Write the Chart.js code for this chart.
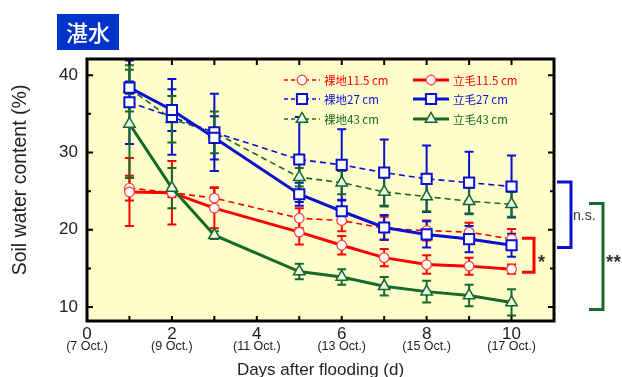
<!DOCTYPE html>
<html>
<head>
<meta charset="utf-8">
<script src="https://cdn.jsdelivr.net/npm/chart.js@4/dist/chart.umd.min.js"></script>
<style>
  html, body { margin: 0; padding: 0; background: #fff; }
</style>
</head>
<body>
<canvas id="chart" width="622" height="377"></canvas>
<script>
// days after flooding where soil water was measured
const days = [1, 2, 3, 5, 6, 7, 8, 9, 10];
const seriesNames = ["裸地11.5 cm", "立毛11.5 cm", "裸地27 cm", "立毛27 cm", "裸地43 cm", "立毛43 cm"];

// mean soil water content (%)
const bare115 = [25.4, 24.8, 24.1, 21.5, 21.2, 20.2, 19.9, 19.7, 18.8];
const stand115 = [24.9, 24.8, 22.8, 19.7, 18.0, 16.4, 15.5, 15.3, 14.9];
const bare27 = [36.5, 34.6, 32.6, 29.1, 28.4, 27.4, 26.6, 26.1, 25.6];
const stand27 = [38.4, 35.5, 31.9, 24.6, 22.4, 20.3, 19.4, 18.8, 18.0];
const bare43 = [38.3, 34.3, 32.6, 26.8, 26.1, 24.9, 24.3, 23.7, 23.3];
const stand43 = [33.7, 25.4, 19.3, 14.6, 13.9, 12.7, 12.0, 11.5, 10.6];

// error bars (half length)
const bare115Err = [1.6, 0.6, 1.4, 1.3, 1.4, 1.5, 1.3, 1.2, 1.3];
const stand115Err = [4.4, 4.1, 2.6, 1.6, 1.2, 1.1, 1.2, 1.1, 0.6];
const bare27Err = [5.4, 4.9, 5.0, 5.5, 4.6, 4.3, 4.3, 4.0, 4.0];
const stand27Err = [0.8, 2.7, 2.8, 1.5, 1.5, 1.6, 1.7, 1.7, 1.5];
const bare43Err = [3.0, 3.0, 2.7, 1.2, 1.5, 1.9, 1.9, 1.7, 1.6];
const stand43Err = [7.0, 2.6, 0.5, 1.0, 1.0, 1.2, 1.4, 1.4, 1.7];

// axes
const xTicks = [0, 2, 4, 6, 8, 10];
const xDates = ["(7 Oct.)", "(9 Oct.)", "(11 Oct.)", "(13 Oct.)", "(15 Oct.)", "(17 Oct.)"];
const xTickMarks = [1, 2, 3, 4, 5, 6, 7, 8, 9, 10];
const yTicks = [10, 20, 30, 40];
const yTickMarks = [10, 15, 20, 25, 30, 35, 40];

// significance brackets (value range on y axis)
const bracketLabels = ["*", "n.s.", "**"];
const bracketTop = [18.9, 26.2, 23.4];
const bracketBottom = [14.5, 17.7, 9.7];

const RED = "#ff0000";
const BLUE = "#0a0fd0";
const GREEN = "#17692a";
const bracketColors = [RED, BLUE, GREEN];

function pts(vals) {
  return days.map((d, i) => ({ x: d, y: vals[i] }));
}

function serie(i, vals, errs, color, style, dashed, order) {
  let radius = 4.8, bw = 1.2, fill = "#ffffff", pcol = "#ff3b3b";
  if (style === "rect") { radius = 7.2; bw = 2; pcol = color; }
  if (style === "triangle") { radius = 6.6; bw = 1.5; pcol = color; fill = "#eef4ee"; }
  return {
    label: seriesNames[i],
    data: pts(vals),
    errors: errs,
    errColor: color,
    borderColor: color,
    borderWidth: dashed ? 1.6 : 3,
    borderDash: dashed ? [6, 4] : [],
    pointStyle: style,
    pointRadius: radius,
    pointBorderWidth: bw,
    pointBorderColor: pcol,
    pointBackgroundColor: fill,
    fill: false,
    tension: 0,
    order: order
  };
}

const datasets = [
  serie(0, bare115, bare115Err, RED, "circle", true, 5),
  serie(1, stand115, stand115Err, RED, "circle", false, 4),
  serie(2, bare27, bare27Err, BLUE, "rect", true, 1),
  serie(3, stand27, stand27Err, BLUE, "rect", false, 0),
  serie(4, bare43, bare43Err, GREEN, "triangle", true, 3),
  serie(5, stand43, stand43Err, GREEN, "triangle", false, 2)
];

// background: white page, pale yellow plot
const background = {
  id: "background",
  beforeDraw(chart) {
    const { ctx, chartArea: a } = chart;
    ctx.save();
    ctx.fillStyle = "#ffffff";
    ctx.fillRect(0, 0, chart.width, chart.height);
    ctx.fillStyle = "#ffffcc";
    ctx.fillRect(a.left, a.top, a.right - a.left, a.bottom - a.top);
    ctx.restore();
  }
};

const errorBars = {
  id: "errorBars",
  beforeDatasetsDraw(chart) {
    const { ctx, chartArea: a, scales: { x, y } } = chart;
    ctx.save();
    ctx.beginPath();
    ctx.rect(a.left, a.top, a.right - a.left, a.bottom - a.top);
    ctx.clip();
    chart.data.datasets.forEach(ds => {
      ctx.strokeStyle = ds.errColor;
      ctx.lineWidth = 2;
      ds.data.forEach((p, i) => {
        const e = ds.errors[i];
        const px = x.getPixelForValue(p.x);
        const y0 = y.getPixelForValue(p.y + e);
        const y1 = y.getPixelForValue(p.y - e);
        ctx.beginPath();
        ctx.moveTo(px, y0); ctx.lineTo(px, y1);
        ctx.moveTo(px - 4.5, y0); ctx.lineTo(px + 4.5, y0);
        ctx.moveTo(px - 4.5, y1); ctx.lineTo(px + 4.5, y1);
        ctx.stroke();
      });
    });
    ctx.restore();
  }
};

// frame, inward ticks, legend, brackets, titles
const decorations = {
  id: "decorations",
  afterDatasetsDraw(chart) {
    const { ctx, chartArea: a, scales: { x, y } } = chart;
    ctx.save();
    ctx.strokeStyle = "#000";
    ctx.lineWidth = 2;
    ctx.beginPath();
    yTickMarks.forEach(v => {
      const py = y.getPixelForValue(v);
      const len = v % 10 === 0 ? 6 : 4;
      ctx.moveTo(a.left, py); ctx.lineTo(a.left + len, py);
      ctx.moveTo(a.right, py); ctx.lineTo(a.right - len, py);
    });
    xTickMarks.forEach(v => {
      const px = x.getPixelForValue(v);
      ctx.moveTo(px, a.bottom); ctx.lineTo(px, a.bottom - 5);
      ctx.moveTo(px, a.top); ctx.lineTo(px, a.top + 6);
    });
    ctx.stroke();
    ctx.lineWidth = 3;
    ctx.strokeRect(a.left, a.top, a.right - a.left, a.bottom - a.top);

    // legend
    const cols = [{ l0: 284, l1: 320, tx: 324 }, { l0: 413, l1: 449, tx: 453 }];
    const rows = [80, 99, 119];
    ctx.font = "11.5px 'Noto Sans CJK JP'";
    ctx.textBaseline = "middle";
    ctx.textAlign = "left";
    chart.data.datasets.forEach((ds, i) => {
      const c = cols[i % 2], ry = rows[Math.floor(i / 2)];
      ctx.strokeStyle = ds.borderColor;
      ctx.lineWidth = ds.borderWidth;
      ctx.setLineDash(ds.borderDash.length ? [4, 3] : []);
      ctx.beginPath();
      ctx.moveTo(c.l0, ry); ctx.lineTo(c.l1, ry);
      ctx.stroke();
      ctx.setLineDash([]);
      ctx.fillStyle = ds.pointBackgroundColor;
      ctx.strokeStyle = ds.pointBorderColor;
      ctx.lineWidth = ds.pointBorderWidth;
      Chart.helpers.drawPoint(ctx, { pointStyle: ds.pointStyle, radius: ds.pointRadius, rotation: 0, borderWidth: ds.pointBorderWidth }, (c.l0 + c.l1) / 2, ry);
      ctx.fillStyle = ds.borderColor;
      ctx.fillText(ds.label, c.tx, ry + 1);
    });

    // significance brackets
    const right = a.right;
    const bx = [[right - 32, right - 20], [right + 3, right + 17], [right + 35, right + 49]];
    ctx.lineWidth = 3;
    bracketLabels.forEach((lab, i) => {
      const t = y.getPixelForValue(bracketTop[i]);
      const b = y.getPixelForValue(bracketBottom[i]);
      ctx.strokeStyle = bracketColors[i];
      ctx.beginPath();
      ctx.moveTo(bx[i][0], t); ctx.lineTo(bx[i][1], t);
      ctx.lineTo(bx[i][1], b); ctx.lineTo(bx[i][0], b);
      ctx.stroke();
    });
    ctx.fillStyle = "#333";
    ctx.textBaseline = "alphabetic";
    ctx.font = "bold 18px 'Liberation Sans'";
    ctx.fillText(bracketLabels[0], right - 16, 268);
    ctx.font = "14px 'Liberation Sans'";
    ctx.fillText(bracketLabels[1], right + 19, 220);
    ctx.font = "bold 19px 'Liberation Sans'";
    ctx.fillText(bracketLabels[2], right + 52, 268);
    ctx.restore();
  },
  afterDraw(chart) {
    const { ctx, chartArea: a, scales: { x } } = chart;
    ctx.save();
    // date line under each x tick
    ctx.fillStyle = "#222";
    ctx.font = "12.5px 'Liberation Sans'";
    ctx.textAlign = "center";
    ctx.textBaseline = "middle";
    xTicks.forEach((v, i) => ctx.fillText(xDates[i], x.getPixelForValue(v), 347));

    // axis titles
    ctx.font = "17px 'Liberation Sans'";
    ctx.textBaseline = "alphabetic";
    ctx.fillText("Days after flooding (d)", (a.left + a.right) / 2, 375);
    ctx.save();
    ctx.translate(21, 180);
    ctx.rotate(-Math.PI / 2);
    ctx.textBaseline = "middle";
    ctx.font = "19.5px 'Liberation Sans'";
    ctx.fillText("Soil water content (%)", 0, 0);
    ctx.restore();

    // title tag
    ctx.fillStyle = "#0033cc";
    ctx.fillRect(57, 14, 62, 36);
    ctx.fillStyle = "#ffffff";
    ctx.font = "500 22px 'Noto Sans CJK JP'";
    ctx.textBaseline = "middle";
    ctx.fillText("湛水", 88, 33);
    ctx.restore();
  }
};

new Chart(document.getElementById("chart"), {
  type: "line",
  data: { datasets: datasets },
  plugins: [background, errorBars, decorations],
  options: {
    responsive: false,
    animation: false,
    layout: { padding: { top: 59, right: 68, left: 0, bottom: 0 } },
    plugins: { legend: { display: false }, tooltip: { enabled: false } },
    scales: {
      x: {
        type: "linear",
        min: 0,
        max: 11,
        afterFit(s) { s.height = 56; },
        afterBuildTicks(s) { s.ticks = xTicks.map(v => ({ value: v })); },
        grid: { display: false, drawTicks: false },
        border: { display: false },
        ticks: { color: "#222", padding: 3, font: { family: "'Liberation Sans'", size: 17 }, maxRotation: 0, autoSkip: false }
      },
      y: {
        type: "linear",
        min: 8.2,
        max: 42.1,
        afterFit(s) { s.width = 87; },
        afterBuildTicks(s) { s.ticks = yTicks.map(v => ({ value: v })); },
        grid: { display: false, drawTicks: false },
        border: { display: false },
        ticks: { color: "#222", padding: 9, font: { family: "'Liberation Sans'", size: 17 } }
      }
    }
  }
});
</script>
</body>
</html>
